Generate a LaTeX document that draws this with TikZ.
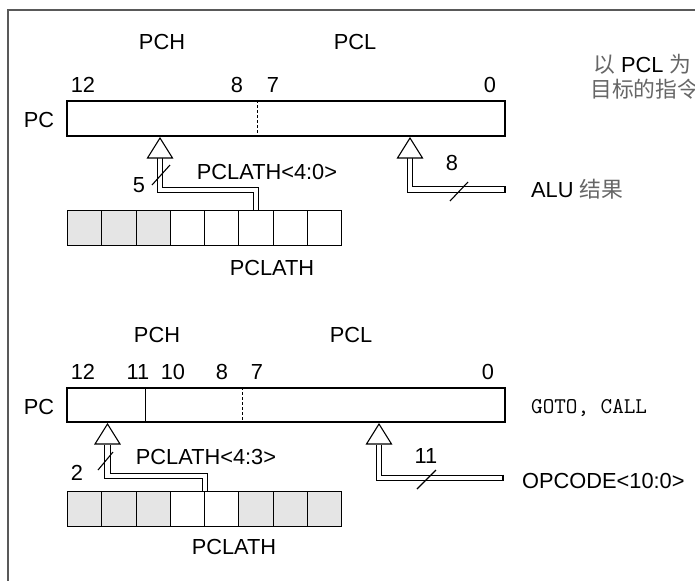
\documentclass[tikz,border=0pt]{standalone}
\usepackage{fontspec}
\setmainfont{Liberation Sans}
\newfontfamily\cjk{Noto Sans CJK SC}
\newcommand{\hollowtip}[1]{\draw[line width=1.1pt, fill=white] (#1) -- ++(-12.5,20) -- ++(25,0) -- cycle;}
\begin{document}
\begin{tikzpicture}[x=1pt,y=-1pt,
  font=\fontsize{21.8}{24}\selectfont,
  reg/.style={draw, line width=1.1pt, minimum width=438pt, inner sep=0pt},
  cell/.style={draw, line width=1.1pt, minimum width=34.25pt, minimum height=35pt, inner sep=0pt, anchor=north west},
  bus/.style={double=white, double distance=4.5pt, line width=1.1pt},
  lbl/.style={inner sep=0pt}]
\useasboundingbox (0,0) rectangle (695,581);
\draw[line width=2pt, black!65] (695,10) -| (8,581);

%%%%%%%% upper part: writes to PCL
\node[lbl] (pchA) at (162,42) {PCH};
\node[lbl] (pclA) at (355,42) {PCL};
\foreach \x/\b in {83/12,237/8,273/7,490/0}
  \node[lbl] (bitA\b) at (\x,84.5) {\b};
\node[lbl] (pcA) at (39,120) {PC};
\node[reg, minimum height=35pt] (regA) at (286,118.5) {};
\draw[line width=1pt, densely dashed] (regA.north west) ++(191,0) -- ++(0,35);
\foreach \i/\c in {0/gray!20,1/gray!20,2/gray!20,3/white,4/white,5/white,6/white,7/white}
  \node[cell, fill=\c] (lathA\i) at (67+34.25*\i,210) {};
\node[lbl] (nameA) at (272,268) {PCLATH};

\coordinate (tipA) at (160,138);
\coordinate (baseA) at (160,158);
\coordinate (bendA) at (160,190);
\draw[bus] (lathA5.north) |- (bendA) -- (baseA);
\hollowtip{tipA}
\draw[line width=1.1pt] (152,185) -- (170,165);
\node[lbl] (widA) at (139,185) {5};
\node[lbl] (srcA) at (267,172) {PCLATH<4:0>};

\coordinate (tipB) at (410,138);
\coordinate (baseB) at (410,158);
\coordinate (aluEnd) at (505,189.5);
\draw[bus] (aluEnd) -| (baseB);
\draw[line width=1.1pt] (aluEnd) ++(0,-3.4) -- ++(0,6.8);
\hollowtip{tipB}
\draw[line width=1.1pt] (450,201) -- (468,182);
\node[lbl] (widB) at (452,163) {8};
\node[lbl, anchor=base west] (alu) at (531,197.7) {ALU {\cjk\color{black!60}结果}};

\node[lbl, anchor=base west] (noteA) at (593,72.7) {{\cjk\color{black!60}以} PCL {\cjk\color{black!60}为}};
\node[lbl, anchor=base west] (noteB) at (590,97) {\cjk\color{black!60}目标的指令};

%%%%%%%% lower part: GOTO and CALL
\node[lbl] (pchB) at (157,335) {PCH};
\node[lbl] (pclB) at (351,335) {PCL};
\foreach \x/\b in {83/12,138/11,173/10,222/8,257/7,488/0}
  \node[lbl] (bitB\b) at (\x,372) {\b};
\node[lbl] (pcB) at (39,407) {PC};
\node[reg, minimum height=34pt] (regB) at (286,405) {};
\draw[line width=1.1pt] (regB.north west) ++(79,0) -- ++(0,34);
\draw[line width=1pt, densely dashed] (regB.north west) ++(176,0) -- ++(0,34);
\foreach \i/\c in {0/gray!20,1/gray!20,2/gray!20,3/white,4/white,5/gray!20,6/gray!20,7/gray!20}
  \node[cell, fill=\c] (lathB\i) at (67+34.25*\i,491) {};
\node[lbl] (nameB) at (234,547) {PCLATH};

\coordinate (tipC) at (107.5,424);
\coordinate (baseC) at (107.5,445);
\coordinate (bendC) at (107.5,476);
\draw[bus] (lathB3.north east) |- (bendC) -- (baseC);
\hollowtip{tipC}
\draw[line width=1.1pt] (98,470) -- (113,452);
\node[lbl] (widC) at (77,473) {2};
\node[lbl] (srcC) at (206,457) {PCLATH<4:3>};

\coordinate (tipD) at (379,424);
\coordinate (baseD) at (379,445);
\coordinate (opEnd) at (503,478);
\draw[bus] (opEnd) -| (baseD);
\draw[line width=1.1pt] (opEnd) ++(0,-3.4) -- ++(0,6.8);
\hollowtip{tipD}
\draw[line width=1.1pt] (417,489) -- (436,470);
\node[lbl] (widD) at (426,456) {11};
\node[lbl, anchor=base west] (opcode) at (522,488.7) {OPCODE<10:0>};

\node[lbl, anchor=base west, font=\ttfamily\fontsize{22.5}{24}\selectfont] (jump) at (531,413.5) {GOTO, CALL};
\end{tikzpicture}
\end{document}
